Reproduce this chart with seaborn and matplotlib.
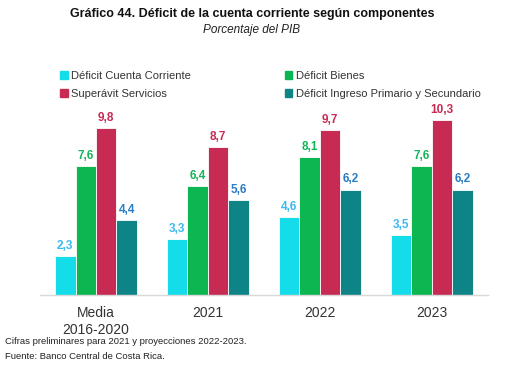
import pandas as pd
import matplotlib.pyplot as plt
import seaborn as sns

periodos = ["Media\n2016-2020", "2021", "2022", "2023"]
series = ["Déficit Cuenta Corriente", "Déficit Bienes",
          "Superávit Servicios", "Déficit Ingreso Primario y Secundario"]
cuenta_corriente = [2.3, 3.3, 4.6, 3.5]
bienes = [7.6, 6.4, 8.1, 7.6]
servicios = [9.8, 8.7, 9.7, 10.3]
ingreso = [4.4, 5.6, 6.2, 6.2]

bar_colors = ["#14DDE9", "#0CB650", "#C72B53", "#0E8486"]
label_colors = ["#3BB8F2", "#13B556", "#C72B53", "#2A7CC6"]

rows = []
for s, vals in zip(series, [cuenta_corriente, bienes, servicios, ingreso]):
    for p, v in zip(periodos, vals):
        rows.append({"Periodo": p, "Serie": s, "Valor": v})
df = pd.DataFrame(rows)

sns.set_theme(style="white")
plt.rcParams['font.family'] = ['Liberation Sans', 'DejaVu Sans']

fig = plt.figure(figsize=(5.19, 3.69), dpi=100)
ax = fig.add_axes([0.077, 0.2005, 0.863, 0.53])

sns.barplot(data=df, x="Periodo", y="Valor", hue="Serie", order=periodos,
            hue_order=series, palette=bar_colors, width=0.73, saturation=1,
            edgecolor="white", linewidth=0.6, ax=ax, legend=False)

for cont, col in zip(ax.containers, label_colors):
    ax.bar_label(cont, labels=[f"{v:.1f}".replace(".", ",") for v in cont.datavalues],
                 color=col, fontsize=8.5, fontweight="bold", padding=3)

ax.set_ylim(0, 11.5)
ax.set_xlim(-0.5, 3.5)
ax.set_yticks([])
ax.set_xlabel("")
ax.set_ylabel("")
for sp in ["top", "left", "right"]:
    ax.spines[sp].set_visible(False)
ax.spines["bottom"].set_color("#d9d9d9")
ax.spines["bottom"].set_linewidth(1)
ax.tick_params(axis="x", length=0, labelsize=10, colors="#333333", pad=8)
for t in ax.get_xticklabels():
    t.set_linespacing(1.25)

# legend
handles = [plt.Rectangle((0, 0), 1, 1, color=c) for c in bar_colors]
order = [0, 2, 1, 3]
fig.legend([handles[i] for i in order], [series[i] for i in order],
           loc="upper left", bbox_to_anchor=(0.097, 0.835), ncol=2,
           frameon=False, fontsize=8, handlelength=0.7, handleheight=0.7,
           handletextpad=0.3, columnspacing=8.4, labelspacing=0.75,
           labelcolor="#333333")

fig.text(0.486, 0.962, "Gráfico 44. Déficit de la cuenta corriente según componentes",
         ha="center", va="center", fontsize=9, fontweight="bold", color="#111111")
fig.text(0.484, 0.918, "Porcentaje del PIB", ha="center", va="center",
         fontsize=8.5, style="italic", color="#222222")
fig.text(0.01, 0.075, "Cifras preliminares para 2021 y proyecciones 2022-2023.",
         ha="left", va="center", fontsize=6.8, color="#222222")
fig.text(0.01, 0.033, "Fuente: Banco Central de Costa Rica.",
         ha="left", va="center", fontsize=6.8, color="#222222")

fig.savefig("out.png", dpi=100, facecolor="white")
